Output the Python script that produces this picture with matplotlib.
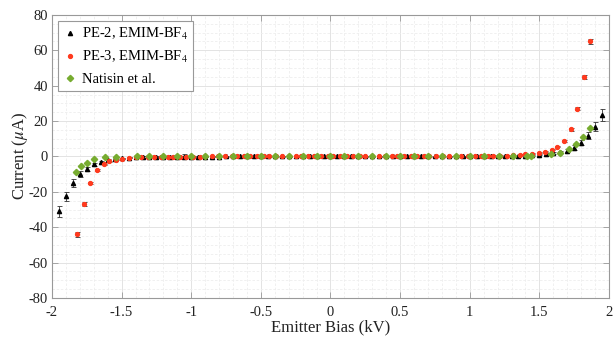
import numpy as np
import matplotlib
matplotlib.use("Agg")
import matplotlib.pyplot as plt
from matplotlib.ticker import MultipleLocator
from matplotlib.lines import Line2D

# PE-2, EMIM-BF4 (black triangles)
pe2_x = [-1.95, -1.90, -1.85, -1.80, -1.75, -1.70, -1.65, -1.60, -1.55, -1.50,
         -1.45, -1.40, -1.35, -1.30, -1.25, -1.20, -1.15, -1.10, -1.05, -1.00,
         -0.95, -0.90, -0.85, -0.80, -0.75, -0.70, -0.65, -0.60, -0.55, -0.50,
         -0.45, -0.40, -0.35, -0.30, -0.25, -0.20, -0.15, -0.10, -0.05, 0.00,
         0.05, 0.10, 0.15, 0.20, 0.25, 0.30, 0.35, 0.40, 0.45, 0.50,
         0.55, 0.60, 0.65, 0.70, 0.75, 0.80, 0.85, 0.90, 0.95, 1.00,
         1.05, 1.10, 1.15, 1.20, 1.25, 1.30, 1.35, 1.40, 1.45, 1.50,
         1.55, 1.60, 1.65, 1.70, 1.75, 1.80, 1.85, 1.90, 1.95]
pe2_y = [-31.0, -22.5, -15.0, -10.0, -7.0, -4.5, -3.0, -2.0, -1.3, -0.9,
         -0.6, -0.4, -0.3, -0.2, -0.15, -0.1, -0.1, -0.1, -0.1, -0.05,
         -0.05, -0.05, -0.05, -0.05, 0.0, 0.0, 0.0, 0.0, 0.0, 0.0,
         0.0, 0.0, 0.0, 0.0, 0.0, 0.0, 0.0, 0.0, 0.0, 0.0,
         0.0, 0.0, 0.0, 0.0, 0.0, 0.0, 0.0, 0.0, 0.0, 0.0,
         0.0, 0.0, 0.0, 0.0, 0.0, 0.0, 0.0, 0.0, 0.0, 0.0,
         0.0, 0.05, 0.05, 0.05, 0.1, 0.1, 0.15, 0.3, 0.6, 1.0,
         1.4, 2.0, 2.5, 3.3, 5.0, 7.8, 11.6, 16.8, 23.4]
pe2_err = [3.0, 2.5, 2.0, 1.5, 1.0, 0.8, 0.6, 0.5, 0.4, 0.3,
           0.3, 0.3, 0.3, 0.3, 0.3, 0.3, 0.3, 0.3, 1.5, 0.3,
           0.3, 0.3, 0.3, 0.3, 0.3, 0.3, 0.3, 0.3, 0.3, 0.3,
           0.3, 0.3, 0.3, 0.3, 0.3, 0.3, 0.3, 0.3, 0.3, 0.3,
           0.3, 0.3, 0.3, 0.3, 0.3, 0.3, 0.3, 0.3, 0.3, 0.3,
           0.3, 0.3, 0.3, 0.3, 0.3, 0.3, 0.3, 0.3, 0.3, 0.3,
           0.3, 0.3, 0.3, 0.3, 0.3, 0.3, 0.3, 0.3, 0.3, 0.4,
           0.5, 0.6, 0.8, 1.0, 1.2, 1.6, 2.0, 2.6, 3.2]

# PE-3, EMIM-BF4 (red dots)
pe3_x = [-1.82, -1.77, -1.73, -1.68, -1.63, -1.59, -1.54, -1.50, -1.45, -1.40,
         -1.36, -1.31, -1.27, -1.22, -1.17, -1.13, -1.08, -1.04, -0.99, -0.94,
         -0.90, -0.85, -0.81, -0.76, -0.71, -0.67, -0.62, -0.58, -0.53, -0.48,
         -0.44, -0.39, -0.35, -0.30, -0.25, -0.21, -0.16, -0.12, -0.07, -0.02,
         0.02, 0.07, 0.12, 0.16, 0.21, 0.25, 0.30, 0.35, 0.39, 0.44,
         0.48, 0.53, 0.58, 0.62, 0.67, 0.71, 0.76, 0.81, 0.85, 0.90,
         0.94, 0.99, 1.04, 1.08, 1.13, 1.17, 1.22, 1.27, 1.31, 1.36,
         1.40, 1.45, 1.50, 1.54, 1.59, 1.63, 1.68, 1.73, 1.77, 1.82, 1.86]
pe3_y = [-44.0, -27.0, -15.0, -7.5, -4.5, -2.7, -1.8, -1.2, -0.8, -0.5,
         -0.35, -0.25, -0.2, -0.15, -0.1, -0.1, -0.1, -0.05, -0.05, -0.05,
         0.0, 0.0, 0.0, 0.0, 0.0, 0.0, 0.0, 0.0, 0.0, 0.0,
         0.0, 0.0, 0.0, 0.0, 0.0, 0.0, 0.0, 0.0, 0.0, 0.0,
         0.0, 0.0, 0.0, 0.0, 0.0, 0.0, 0.0, 0.0, 0.0, 0.0,
         0.0, 0.0, 0.0, 0.0, 0.0, 0.0, 0.0, 0.0, 0.0, 0.0,
         0.05, 0.05, 0.1, 0.15, 0.2, 0.3, 0.4, 0.5, 0.7, 0.9,
         1.2, 1.6, 2.1, 2.7, 3.8, 5.5, 8.6, 15.4, 27.0, 44.7, 65.0]
pe3_err = [1.5, 1.0, 0.8, 0.5, 0.3, 0.3, 0.3, 0.3, 0.3, 0.3,
           0.3, 0.3, 0.3, 0.3, 0.3, 0.3, 0.3, 0.3, 0.3, 0.3,
           0.3, 0.3, 0.3, 0.3, 0.3, 0.3, 0.3, 0.3, 0.3, 0.3,
           0.3, 0.3, 0.3, 0.3, 0.3, 0.3, 0.3, 0.3, 0.3, 0.3,
           0.3, 0.3, 0.3, 0.3, 0.3, 0.3, 0.3, 0.3, 0.3, 0.3,
           0.3, 0.3, 0.3, 0.3, 0.3, 0.3, 0.3, 0.3, 0.3, 0.3,
           0.3, 0.3, 0.3, 0.3, 0.3, 0.3, 0.3, 0.3, 0.3, 0.3,
           0.3, 0.3, 0.3, 0.3, 0.3, 0.3, 0.5, 0.8, 1.0, 1.2, 1.2]

# Natisin et al. (green diamonds)
nat_x = [-1.83, -1.79, -1.75, -1.70, -1.62, -1.54, -1.39, -1.30, -1.20, -1.10,
         -1.00, -0.90, -0.80, -0.70, -0.60, -0.50, -0.40, -0.30, -0.20, -0.10,
         0.00, 0.10, 0.20, 0.30, 0.40, 0.50, 0.60, 0.70, 0.80, 0.90,
         1.00, 1.10, 1.21, 1.31, 1.41, 1.44, 1.58, 1.65, 1.71, 1.76, 1.81, 1.86]
nat_y = [-8.6, -5.2, -3.5, -1.6, -0.5, -0.1, 0.0, 0.0, 0.0, 0.0,
         0.0, 0.0, 0.0, 0.0, 0.0, 0.0, 0.0, 0.0, 0.0, 0.0,
         0.0, 0.0, 0.0, 0.0, 0.0, 0.0, 0.0, 0.0, 0.0, 0.0,
         0.0, 0.0, 0.0, 0.05, 0.1, 0.2, 1.4, 1.8, 4.2, 6.9, 11.2, 15.9]

red = '#ff3a1e'
green = '#77ac30'

plt.rcParams['font.family'] = ['Liberation Serif', 'DejaVu Serif']
plt.rcParams['mathtext.fontset'] = 'stix'

fig = plt.figure(figsize=(6.13, 3.39), dpi=100)
ax = fig.add_axes([0.0848, 0.121, 0.9087, 0.835])

ebar = dict(linestyle='none', ecolor='#333333', elinewidth=0.6, capsize=1.8, capthick=0.6)
ax.errorbar(pe2_x, pe2_y, yerr=pe2_err, marker='^', ms=3, color='k', zorder=3, **ebar)
ax.errorbar(pe3_x, pe3_y, yerr=pe3_err, marker='o', ms=2.8, color=red, mec=red,
            zorder=4, **ebar)
ax.plot(nat_x, nat_y, 'D', ms=3.2, color=green, mec=green, zorder=5)

ax.set_xlim(-2, 2)
ax.set_ylim(-80, 80)
ax.xaxis.set_minor_locator(MultipleLocator(0.1))
ax.yaxis.set_minor_locator(MultipleLocator(5))
ax.set_xticks([-2, -1.5, -1, -0.5, 0, 0.5, 1, 1.5, 2])
ax.set_xticklabels(['-2', '-1.5', '-1', '-0.5', '0', '0.5', '1', '1.5', '2'])
ax.set_yticks([-80, -60, -40, -20, 0, 20, 40, 60, 80])
ax.set_yticklabels(['-80', '-60', '-40', '-20', '0', '20', '40', '60', '80'])

ax.grid(which='major', color='#e3e3e3', linewidth=0.7)
ax.grid(which='minor', color='#eeeeee', linewidth=0.6, linestyle=(0, (3, 2)))
ax.set_axisbelow(True)
ax.tick_params(which='both', direction='in', top=True, right=True,
               colors='#999999', labelcolor='#222222', labelsize=10.5)
ax.tick_params(which='major', length=4, width=0.6)
ax.tick_params(which='minor', length=0)
ax.tick_params(axis='x', pad=6)
ax.tick_params(axis='y', pad=3)
for s in ax.spines.values():
    s.set_color('#999999')
    s.set_linewidth(0.8)

ax.set_xlabel('Emitter Bias (kV)', fontsize=12, labelpad=0, color='#222222')
ax.set_ylabel('Current ($\\mu$A)', fontsize=12, labelpad=-1, color='#222222')

handles = [
    Line2D([], [], ls='none', marker='^', ms=3, color='k'),
    Line2D([], [], ls='none', marker='o', ms=2.8, color=red),
    Line2D([], [], ls='none', marker='D', ms=3.2, color=green),
]
labels = ['PE-2, EMIM-BF$_4$', 'PE-3, EMIM-BF$_4$', 'Natisin et al.']
leg = ax.legend(handles, labels, loc='upper left', fontsize=10.5, frameon=True,
                fancybox=False, edgecolor='#999999', framealpha=1,
                borderpad=0.35, handletextpad=0.3, labelspacing=0.5,
                handlelength=1.0, borderaxespad=0.4)
leg.get_frame().set_linewidth(0.8)

fig.savefig('out.png', dpi=100)
